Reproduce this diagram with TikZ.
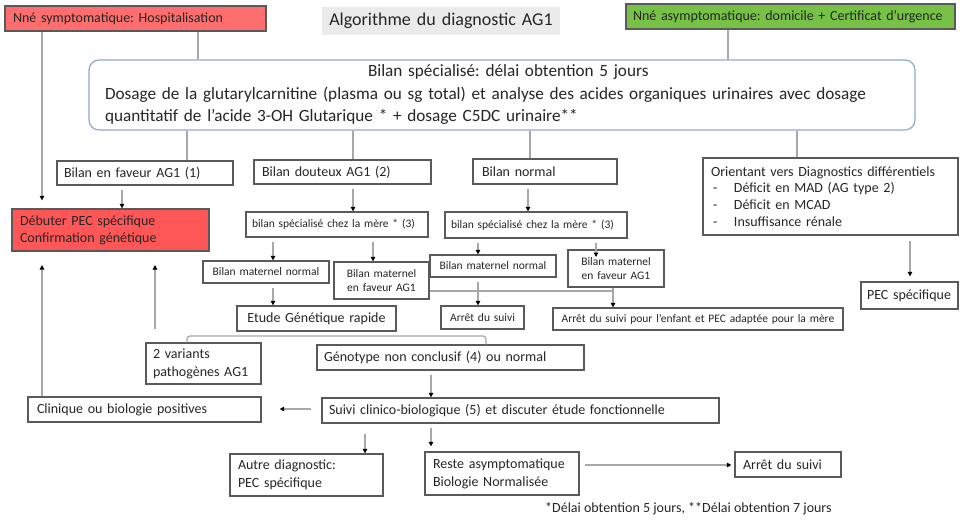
\documentclass[tikz,border=0pt]{standalone}
\usepackage{fontspec}
\setmainfont{Carlito}
\usetikzlibrary{arrows.meta}
\definecolor{boxline}{HTML}{5A5A5A}
\definecolor{linkgray}{HTML}{A8A8A8}
\definecolor{txt}{HTML}{262626}
\definecolor{redA}{HTML}{FF6E6E}
\definecolor{redB}{HTML}{FF5757}
\definecolor{greenA}{HTML}{77C146}
\definecolor{titlebg}{HTML}{EBEBEB}
\definecolor{blueline}{HTML}{8FAACC}
\newcommand{\fs}[2]{\fontsize{#1}{#2}\selectfont}
\frenchspacing
\begin{document}
\begin{tikzpicture}[x=1pt,y=-1pt,
  box/.style={draw=boxline, line width=1.3pt, fill=white, inner ysep=0pt, text=txt},
  link/.style={draw=linkgray, line width=1.2pt},
  arr/.style={link, shorten <=4pt, -{Triangle[length=4.5pt,width=4.5pt,color=black]}}]
\useasboundingbox[fill=white] (0,0) rectangle (960,524);

% column and row helpers for the connectors
\foreach \c in {42,122,155,187,198,273,353,365,373,431,478,486,528,530,596,613,728,797,910}
  \coordinate (x\c) at (\c,0);
\foreach \r in {291,336,409,465}
  \coordinate (y\r) at (0,\r);

% header
\node[box, fill=redA, minimum height=25pt, inner xsep=8pt, text width=245pt, align=left, font=\fs{14}{16}]
  (sympt) at (135.5,18.5) {Nné symptomatique: Hospitalisation};
\node[fill=titlebg, minimum height=28pt, inner xsep=0pt, text width=238pt, align=center, text=txt, font=\fs{18}{20}]
  (title) at (441,21) {Algorithme du diagnostic AG1};
\node[box, fill=greenA, minimum height=25pt, inner xsep=7pt, text width=315pt, align=left, font=\fs{14}{16}]
  (asympt) at (790.5,16.5) {Nné asymptomatique: domicile + Certificat d’urgence};

% specialised work-up
\node[draw=blueline, line width=1.2pt, rounded corners=10pt, fill=white, text=txt,
      minimum height=70pt, inner xsep=16pt, inner ysep=0pt, text width=794pt, align=left, font=\fs{17.2}{22.5}]
  (main) at (502,95) {\hspace*{263pt}Bilan spécialisé: délai obtention 5 jours\\
  Dosage de la glutarylcarnitine (plasma ou sg total) et analyse des acides organiques urinaires avec dosage\\
  quantitatif de l’acide 3-OH Glutarique * + dosage C5DC urinaire**};

% second row
\node[box, minimum height=24pt, inner xsep=7pt, text width=162pt, align=left, font=\fs{14}{16}]
  (fav) at (145,173) {Bilan en faveur AG1 (1)};
\node[box, minimum height=24pt, inner xsep=8pt, text width=161pt, align=left, font=\fs{14}{16}]
  (dout) at (342.5,172) {Bilan douteux AG1 (2)};
\node[box, minimum height=25pt, inner xsep=9pt, text width=126pt, align=left, font=\fs{14}{16}]
  (norm) at (545,171.5) {Bilan normal};
\node[box, minimum height=77pt, inner xsep=8pt, text width=239pt, align=left, font=\fs{14}{16.7}]
  (diff) at (830.5,196.5) {Orientant vers Diagnostics différentiels\\
  \makebox[23pt][l]{\hspace{2pt}-}Déficit en MAD (AG type 2)\\
  \makebox[23pt][l]{\hspace{2pt}-}Déficit en MCAD\\
  \makebox[23pt][l]{\hspace{2pt}-}Insuffisance rénale};

\node[box, fill=redB, minimum height=42pt, inner xsep=8pt, text width=181pt, align=left, font=\fs{14}{17}]
  (pec) at (110.5,230) {Débuter PEC spécifique\\Confirmation génétique};

% maternal work-up
\node[box, minimum height=25pt, inner xsep=6pt, text width=170pt, align=left, font=\fs{11.5}{14}]
  (mereA) at (337,224.5) {\mbox{bilan spécialisé chez la mère * (3)}};
\node[box, minimum height=26pt, inner xsep=6pt, text width=170pt, align=left, font=\fs{11.5}{14}]
  (mereB) at (536,225) {\mbox{bilan spécialisé chez la mère * (3)}};
\node[box, minimum height=22pt, inner xsep=2pt, text width=122pt, align=center, font=\fs{11.5}{14}]
  (matnA) at (266,272) {Bilan maternel normal};
\node[box, minimum height=37pt, inner xsep=2pt, text width=91pt, align=center, font=\fs{11.5}{14.5}]
  (matfA) at (381.5,280.5) {Bilan maternel\\en faveur AG1};
\node[box, minimum height=22pt, inner xsep=2pt, text width=122pt, align=center, font=\fs{11.5}{14}]
  (matnB) at (493,266) {Bilan maternel normal};
\node[box, minimum height=37pt, inner xsep=2pt, text width=92pt, align=center, font=\fs{11.5}{14.5}]
  (matfB) at (616,268.5) {Bilan maternel\\en faveur AG1};

\node[box, minimum height=25pt, inner xsep=2pt, text width=155pt, align=center, font=\fs{14}{16}]
  (etude) at (316.5,318.5) {Etude Génétique rapide};
\node[box, minimum height=23pt, inner xsep=2pt, text width=79pt, align=center, font=\fs{11.5}{14}]
  (arrA) at (482.5,317.5) {Arrêt du suivi};
\node[box, minimum height=22pt, inner xsep=2pt, text width=286pt, align=center, font=\fs{11.5}{14}]
  (arrB) at (698,319) {Arrêt du suivi pour l’enfant et PEC adaptée pour la mère};
\node[box, minimum height=27pt, inner xsep=6pt, text width=85pt, align=left, font=\fs{14}{16}]
  (pecsp) at (909.5,295.5) {\mbox{PEC spécifique}};

% genetic results and follow-up
\node[box, minimum height=41pt, inner xsep=7pt, text width=101pt, align=left, font=\fs{14}{18}]
  (var) at (203.5,363.5) {2 variants\\pathogènes AG1};
\node[box, minimum height=25pt, inner xsep=7pt, text width=253pt, align=left, font=\fs{14}{16}]
  (geno) at (450.5,357.5) {Génotype non conclusif (4) ou normal};
\node[box, minimum height=25pt, inner xsep=7pt, text width=383pt, align=left, font=\fs{14}{16}]
  (suivi) at (520.5,410.5) {Suivi clinico-biologique (5) et discuter étude fonctionnelle};
\node[box, minimum height=25pt, inner xsep=9pt, text width=215pt, align=left, font=\fs{14}{16}]
  (clin) at (144.5,409.5) {Clinique ou biologie positives};
\node[box, minimum height=42pt, inner xsep=8pt, text width=137pt, align=left, font=\fs{14}{17.5}]
  (autre) at (306.5,475) {Autre diagnostic:\\PEC spécifique};
\node[box, minimum height=43pt, inner xsep=8pt, text width=138pt, align=left, font=\fs{14}{18}]
  (reste) at (502,473.5) {Reste asymptomatique\\Biologie Normalisée};
\node[box, minimum height=25pt, inner xsep=8pt, text width=90pt, align=left, font=\fs{14}{16}]
  (arrC) at (788,464.5) {Arrêt du suivi};

\node[anchor=west, inner sep=0pt, text=txt, font=\fs{14}{16}]
  (foot) at (545,509) {*Délai obtention 5 jours, **Délai obtention 7 jours};

% loose arrow ends
\coordinate (pecTipL) at (42,265);
\coordinate (pecTipR) at (155,265);
\coordinate (varUp) at (155,329);
\coordinate (matfTip) at (596,257);

% connectors from the header
\draw[arr, shorten <=0pt, shorten >=8pt] (x42 |- sympt.south) -- (x42 |- pec.north);
\draw[link] (x198 |- sympt.south) -- (x198 |- main.north);
\draw[link] (x728 |- asympt.south) -- (x728 |- main.north);
\draw[link] (x187 |- main.south) -- (x187 |- fav.north);
\draw[link] (x353 |- main.south) -- (x353 |- dout.north);
\draw[link] (x530 |- main.south) -- (x530 |- norm.north);
\draw[link] (x797 |- main.south) -- (x797 |- diff.north);

% second-row branches
\draw[arr] (x122 |- fav.south) -- (x122 |- pec.north);
\draw[arr] (x353 |- dout.south) -- (x353 |- mereA.north);
\draw[arr] (x528 |- norm.south) -- (x528 |- mereB.north);
\draw[arr, shorten <=5pt, shorten >=5pt] (x910 |- diff.south) -- (x910 |- pecsp.north);

\draw[arr] (x273 |- mereA.south) -- (x273 |- matnA.north);
\draw[arr] (x373 |- mereA.south) -- (x373 |- matfA.north);
\draw[arr] (x478 |- mereB.south) -- (x478 |- matnB.north);
\draw[arr] (x596 |- mereB.south) -- (matfTip);

\draw[arr] (x273 |- matnA.south) -- (x273 |- etude.north);
\draw[arr] (x478 |- matnB.south) -- (x478 |- arrA.north);
\draw[link] (y291 -| matfA.east) -- (y291 -| x613);
\draw[arr, shorten <=0pt] (x613 |- matfB.south) -- (x613 |- arrB.north);

% genetic study outcomes
\draw[link, rounded corners=3pt] (x187 |- var.north) -- (x187 |- y336) -- (x486 |- y336) -- (x486 |- geno.north);
\draw[arr, shorten <=0pt] (varUp) -- (pecTipR);
\draw[arr, shorten <=0pt] (x42 |- clin.north) -- (pecTipL);
\draw[arr] (x431 |- geno.south) -- (x431 |- suivi.north);
\draw[arr, shorten <=10pt, shorten >=18pt] (y409 -| suivi.west) -- (y409 -| clin.east);
\draw[arr, shorten <=10pt] (x365 |- suivi.south) -- (x365 |- autre.north);
\draw[arr, shorten >=5pt] (x431 |- suivi.south) -- (x431 |- reste.north);
\draw[arr, shorten <=5pt, shorten >=3pt] (y465 -| reste.east) -- (y465 -| arrC.west);
\end{tikzpicture}
\end{document}
